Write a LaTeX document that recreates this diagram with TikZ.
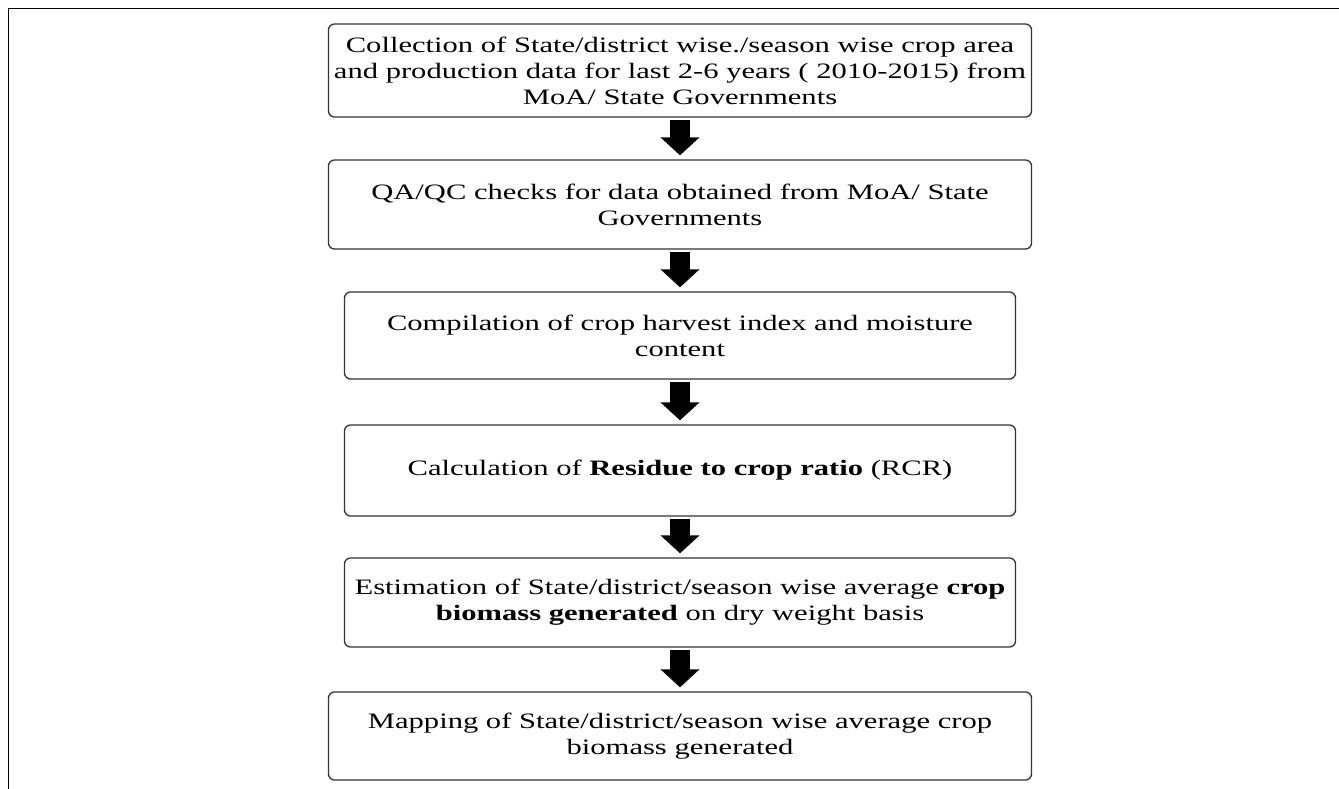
\documentclass[tikz,border=0pt]{standalone}
\usepackage{fontspec}
\setmainfont[FakeStretch=1.39]{Liberation Serif}
\usetikzlibrary{arrows.meta}

\begin{document}
\begin{tikzpicture}[x=1pt,y=-1pt,
  flowbox/.style={draw=black!80,line width=1.3pt,rounded corners=6pt,align=center,inner sep=0pt,
    font=\fontsize{22}{26}\selectfont},
  flowarrow/.style={line width=20pt,-{Triangle[width=38pt,length=18pt]},shorten <=2pt,shorten >=4pt}]
\useasboundingbox (0,0) rectangle (1339,789);
\draw[line width=1pt] (8,789) -- (8,9) -- (1339,9);

\node[flowbox,minimum width=703pt,minimum height=93pt] (collect) at (680,70.5)
  {Collection of State/district wise./season wise crop area\\
   and production data for last 2-6 years ( 2010-2015) from\\
   MoA/ State Governments};
\node[flowbox,minimum width=703pt,minimum height=89pt] (qaqc) at (680,204.5)
  {QA/QC checks for data obtained from MoA/ State\\ Governments};
\node[flowbox,minimum width=671pt,minimum height=87pt] (harvest) at (680,335.5)
  {Compilation of crop harvest index and moisture\\ content};
\node[flowbox,minimum width=671pt,minimum height=91pt] (rcr) at (680,470.5)
  {Calculation of \textbf{Residue to crop ratio} (RCR)};
\node[flowbox,minimum width=671pt,minimum height=89pt] (estimate) at (680,602.5)
  {Estimation of State/district/season wise average \textbf{crop}\\
   \textbf{biomass generated} on dry weight basis};
\node[flowbox,minimum width=703pt,minimum height=88pt] (mapping) at (680,736)
  {Mapping of State/district/season wise average crop\\ biomass generated};

\draw[flowarrow] (collect.south) -- (qaqc.north);
\draw[flowarrow] (qaqc.south) -- (harvest.north);
\draw[flowarrow] (harvest.south) -- (rcr.north);
\draw[flowarrow] (rcr.south) -- (estimate.north);
\draw[flowarrow] (estimate.south) -- (mapping.north);

\end{tikzpicture}
\end{document}
